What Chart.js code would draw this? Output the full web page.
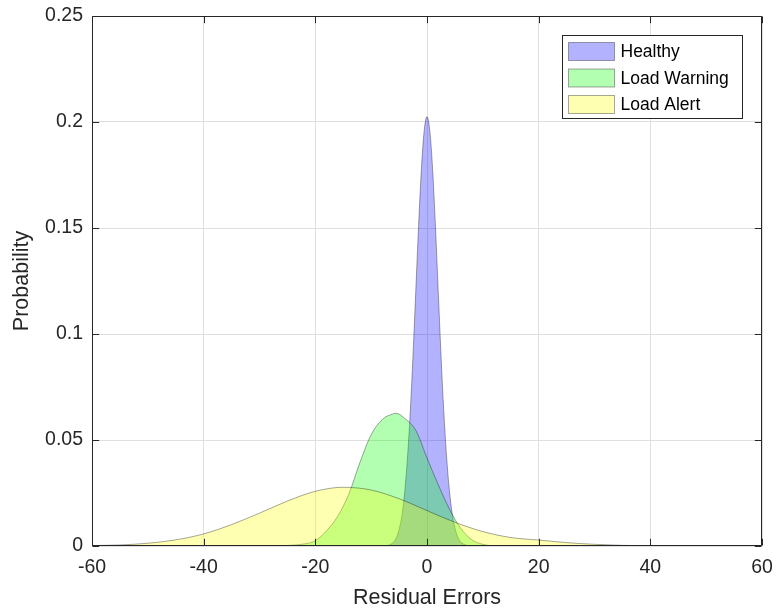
<!DOCTYPE html>
<html>
<head>
<meta charset="utf-8">
<title>Residual Errors</title>
<script src="https://cdn.jsdelivr.net/npm/chart.js@4.4.1/dist/chart.umd.min.js"></script>
<style>
  body { margin: 0; background: #fff; }
  canvas { display: block; }
</style>
</head>
<body>
<canvas id="residuos" width="777" height="615"></canvas>
<script>
// DADOS DAS CURVAS (erro residual x probabilidade)
const seriesLabels = ["Healthy", "Load Warning", "Load Alert"];

const healthyX = [-8, -7, -6, -5.5, -5, -4.5, -4, -3.5, -3, -2.5, -2, -1.5, -1, -0.5, 0, 0.5, 1, 1.5, 2, 2.5, 3, 3.5, 4, 4.5, 5, 5.5, 6, 7, 8];
const healthyY = [0, 0.0003, 0.0018, 0.0038, 0.0078, 0.0142, 0.0252, 0.0415, 0.0632, 0.0905, 0.121, 0.1515, 0.178, 0.196, 0.2025, 0.196, 0.178, 0.1515, 0.121, 0.0905, 0.0638, 0.0425, 0.0265, 0.0155, 0.0086, 0.0043, 0.002, 0.0004, 0];

const warningX = [-30, -26, -24, -22, -20, -18, -16, -14, -12, -10, -8, -6, -5.5, -4, -2, 0, 2, 4, 6, 8, 10, 12, 14];
const warningY = [0, 0.0002, 0.0004, 0.001, 0.0025, 0.0072, 0.014, 0.0245, 0.0395, 0.0525, 0.0597, 0.0624, 0.0626, 0.0602, 0.0545, 0.0415, 0.029, 0.0175, 0.0085, 0.003, 0.0008, 0.0001, 0];

const alertX = [-60, -55, -50, -45, -40, -35, -30, -25, -20, -15, -10, -5, 0, 5, 10, 15, 20, 25, 30, 35, 40, 45, 50];
const alertY = [0.0002, 0.0005, 0.0013, 0.0029, 0.0057, 0.0101, 0.0155, 0.0212, 0.0258, 0.0277, 0.0264, 0.0223, 0.0167, 0.0112, 0.0068, 0.004, 0.0028, 0.0016, 0.0008, 0.0003, 0.0001, 0, 0];

// EIXOS
const xTicks = [-60, -40, -20, 0, 20, 40, 60];
const yTicks = [0, 0.05, 0.1, 0.15, 0.2, 0.25];

const fillColors = ["rgba(0, 0, 255, 0.3)", "rgba(0, 255, 0, 0.3)", "rgba(255, 255, 0, 0.3)"];
const edgeColor = "rgba(0, 0, 0, 0.35)";
const axisColor = "#262626";
const fontFamily = "'Liberation Sans', Arial, sans-serif";

const toPoints = (xs, ys) => xs.map((x, i) => ({ x: x, y: ys[i] }));

function curve(label, xs, ys, color, order) {
  return {
    label: label,
    data: toPoints(xs, ys),
    backgroundColor: color,
    borderColor: edgeColor,
    borderWidth: 1,
    fill: "origin",
    pointRadius: 0,
    cubicInterpolationMode: "monotone",
    order: order,
  };
}

// CAIXA DO EIXO E MARCAS PARA DENTRO (ESTILO MATLAB)
const axesBox = {
  id: "axesBox",
  afterDatasetsDraw(chart) {
    const { ctx, chartArea: a, scales } = chart;
    const l = Math.round(a.left) + 0.5;
    const r = Math.round(a.right) - 0.5;
    const t = Math.round(a.top) + 0.5;
    const b = Math.round(a.bottom) - 0.5;
    const len = 6.7;
    ctx.save();
    ctx.strokeStyle = axisColor;
    ctx.lineWidth = 1;
    ctx.beginPath();
    ctx.rect(l, t, r - l, b - t);
    xTicks.forEach((v) => {
      const px = Math.round(scales.x.getPixelForValue(v)) + 0.5;
      ctx.moveTo(px, b);
      ctx.lineTo(px, b - len);
      ctx.moveTo(px, t);
      ctx.lineTo(px, t + len);
    });
    yTicks.forEach((v) => {
      const py = Math.round(scales.y.getPixelForValue(v)) + 0.5;
      ctx.moveTo(l, py);
      ctx.lineTo(l + len, py);
      ctx.moveTo(r, py);
      ctx.lineTo(r - len, py);
    });
    ctx.stroke();
    ctx.restore();
  },
};

// LEGENDA DENTRO DA AREA DO GRAFICO
const legendBox = {
  id: "legendBox",
  afterDraw(chart) {
    const { ctx, chartArea: a } = chart;
    const w = 180;
    const h = 83;
    const left = Math.round(a.right - 20 - w) + 0.5;
    const top = Math.round(a.top + 19) + 0.5;
    ctx.save();
    ctx.fillStyle = "#fff";
    ctx.fillRect(left, top, w, h);
    ctx.strokeStyle = axisColor;
    ctx.lineWidth = 1;
    ctx.strokeRect(left, top, w, h);
    ctx.font = "17.5px " + fontFamily;
    ctx.textBaseline = "middle";
    seriesLabels.forEach((label, i) => {
      const cy = top + 16 + i * 26.5;
      ctx.fillStyle = "#fff";
      ctx.fillRect(left + 6, cy - 9, 46, 18);
      ctx.fillStyle = fillColors[i];
      ctx.fillRect(left + 6, cy - 9, 46, 18);
      ctx.strokeStyle = edgeColor;
      ctx.strokeRect(left + 6, cy - 9, 46, 18);
      ctx.fillStyle = "#000";
      ctx.fillText(label, left + 58, cy + 1);
    });
    ctx.restore();
  },
};

const ctx = document.getElementById("residuos").getContext("2d");
new Chart(ctx, {
  type: "line",
  data: {
    datasets: [
      curve(seriesLabels[0], healthyX, healthyY, fillColors[0], 3),
      curve(seriesLabels[1], warningX, warningY, fillColors[1], 2),
      curve(seriesLabels[2], alertX, alertY, fillColors[2], 1),
    ],
  },
  options: {
    responsive: false,
    animation: false,
    layout: {
      padding: { left: 0, top: 16, right: 15, bottom: 0 },
    },
    plugins: {
      legend: { display: false },
      tooltip: { enabled: false },
    },
    scales: {
      x: {
        type: "linear",
        min: -60,
        max: 60,
        afterBuildTicks: (scale) => {
          scale.ticks = xTicks.map((v) => ({ value: v }));
        },
        afterFit: (scale) => {
          scale.height = 69;
          scale.paddingLeft = 0;
          scale.paddingRight = 0;
        },
        grid: { color: "#dfdfdf", drawTicks: false },
        border: { display: false },
        ticks: {
          color: axisColor,
          padding: 10,
          maxRotation: 0,
          font: { family: fontFamily, size: 19.5 },
        },
        title: {
          display: true,
          text: "Residual Errors",
          color: axisColor,
          padding: { top: 0, bottom: 4 },
          font: { family: fontFamily, size: 21.5 },
        },
      },
      y: {
        type: "linear",
        min: 0,
        max: 0.25,
        afterBuildTicks: (scale) => {
          scale.ticks = yTicks.map((v) => ({ value: v }));
        },
        afterFit: (scale) => {
          scale.width = 92;
          scale.paddingTop = 0;
          scale.paddingBottom = 0;
        },
        grid: { color: "#dfdfdf", drawTicks: false },
        border: { display: false },
        ticks: {
          color: axisColor,
          padding: 9,
          callback: (v) => String(+v.toFixed(2)),
          font: { family: fontFamily, size: 19.5 },
        },
        title: {
          display: true,
          text: "Probability",
          color: axisColor,
          padding: { top: 9, bottom: 0 },
          font: { family: fontFamily, size: 21.5 },
        },
      },
    },
  },
  plugins: [axesBox, legendBox],
});
</script>
</body>
</html>
